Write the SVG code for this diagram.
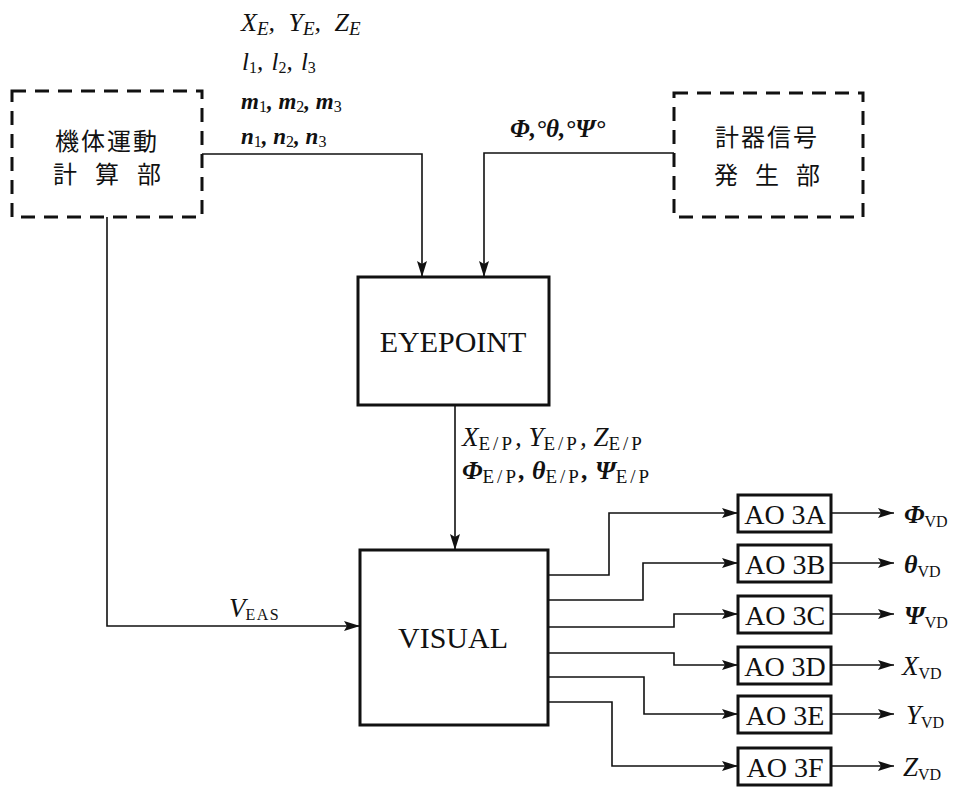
<svg xmlns="http://www.w3.org/2000/svg" width="958" height="788" viewBox="0 0 958 788">
<style>
.box{fill:none;stroke:#111;stroke-width:3}
.dash{fill:none;stroke:#111;stroke-width:3;stroke-dasharray:14 9}
.ln{fill:none;stroke:#111;stroke-width:1.6}
.t{font-family:"Liberation Serif",serif;fill:#111}
.it{font-style:italic}
.bi{font-style:italic;font-weight:bold}
.sub{font-size:16px;font-style:normal;font-weight:normal}
.ep{font-size:19px;font-style:normal;font-weight:normal;letter-spacing:3px}
.jp{font-family:"Noto Sans CJK JP","Noto Sans",sans-serif;fill:#111;font-size:24px}
.big{font-size:30px}
.ao{font-size:28px}
</style>
<defs>
<marker id="ar" markerUnits="userSpaceOnUse" markerWidth="16" markerHeight="10" refX="16" refY="5" orient="auto">
<path d="M0,0 L16,5 L0,10 L3,5 z" fill="#111"/>
</marker>
</defs>

<g id="calc">
<path class="dash" d="M12,91 H202 V217 H12 Z"/>
<text class="jp" x="107" y="150" text-anchor="middle" letter-spacing="2">機体運動</text>
<text class="jp" x="107" y="183" text-anchor="middle" textLength="108" lengthAdjust="spacing">計 算 部</text>
</g>

<g id="instr">
<path class="dash" d="M674,93 H863 V217 H674 Z"/>
<text class="jp" x="767" y="146" text-anchor="middle" letter-spacing="2">計器信号</text>
<text class="jp" x="767" y="184" text-anchor="middle" textLength="106" lengthAdjust="spacing">発 生 部</text>
</g>

<g id="eyepoint">
<rect class="box" x="358" y="277" width="191" height="128"/>
<text class="t big" x="453" y="352" text-anchor="middle">EYEPOINT</text>
</g>

<g id="visual">
<rect class="box" x="360" y="550" width="188" height="175"/>
<text class="t big" x="453" y="648" text-anchor="middle">VISUAL</text>
</g>

<g id="ao3a"><rect class="box" x="738" y="495" width="93" height="37"/><text class="t ao" x="785" y="524" text-anchor="middle">AO 3A</text></g>
<g id="ao3b"><rect class="box" x="738" y="545" width="93" height="37"/><text class="t ao" x="785" y="574" text-anchor="middle">AO 3B</text></g>
<g id="ao3c"><rect class="box" x="738" y="596" width="93" height="37"/><text class="t ao" x="785" y="625" text-anchor="middle">AO 3C</text></g>
<g id="ao3d"><rect class="box" x="738" y="647" width="93" height="37"/><text class="t ao" x="785" y="676" text-anchor="middle">AO 3D</text></g>
<g id="ao3e"><rect class="box" x="738" y="696" width="93" height="37"/><text class="t ao" x="785" y="725" text-anchor="middle">AO 3E</text></g>
<g id="ao3f"><rect class="box" x="738" y="748" width="93" height="37"/><text class="t ao" x="785" y="777" text-anchor="middle">AO 3F</text></g>

<g id="connectors">
<path class="ln" d="M202,154 H422 V277" marker-end="url(#ar)"/>
<path class="ln" d="M674,153 H484 V277" marker-end="url(#ar)"/>
<path class="ln" d="M455,405 V550" marker-end="url(#ar)"/>
<path class="ln" d="M107,217 V626 H360" marker-end="url(#ar)"/>
<path class="ln" d="M548,575 H609 V513 H738" marker-end="url(#ar)"/>
<path class="ln" d="M548,600 H643 V563 H738" marker-end="url(#ar)"/>
<path class="ln" d="M548,627 H674 V614 H738" marker-end="url(#ar)"/>
<path class="ln" d="M548,653 H674 V665 H738" marker-end="url(#ar)"/>
<path class="ln" d="M548,677 H644 V714 H738" marker-end="url(#ar)"/>
<path class="ln" d="M548,702 H612 V766 H738" marker-end="url(#ar)"/>
<path class="ln" d="M831,513 H894" marker-end="url(#ar)"/>
<path class="ln" d="M831,563 H894" marker-end="url(#ar)"/>
<path class="ln" d="M831,614 H894" marker-end="url(#ar)"/>
<path class="ln" d="M831,665 H894" marker-end="url(#ar)"/>
<path class="ln" d="M831,714 H894" marker-end="url(#ar)"/>
<path class="ln" d="M831,766 H894" marker-end="url(#ar)"/>
</g>

<g id="labels">
<text class="t it" x="241" y="31" font-size="26">X<tspan font-size="19" dy="4">E</tspan><tspan dy="-4">, </tspan><tspan dx="7">Y</tspan><tspan font-size="19" dy="4">E</tspan><tspan dy="-4">, </tspan><tspan dx="7">Z</tspan><tspan font-size="19" dy="4">E</tspan></text>
<text class="t it" x="242" y="70" font-size="25">l<tspan class="sub" font-size="17" dy="3">1</tspan><tspan dy="-3">, </tspan><tspan dx="2">l</tspan><tspan class="sub" font-size="17" dy="3">2</tspan><tspan dy="-3">, </tspan><tspan dx="2">l</tspan><tspan class="sub" font-size="17" dy="3">3</tspan></text>
<text class="t bi" x="241" y="109" font-size="23">m<tspan class="sub" dy="3">1</tspan><tspan dy="-3">, m</tspan><tspan class="sub" dy="3">2</tspan><tspan dy="-3">, m</tspan><tspan class="sub" dy="3">3</tspan></text>
<text class="t bi" x="241" y="144" font-size="23">n<tspan class="sub" dy="3">1</tspan><tspan dy="-3">, n</tspan><tspan class="sub" dy="3">2</tspan><tspan dy="-3">, n</tspan><tspan class="sub" dy="3">3</tspan></text>
<text class="t bi" x="510" y="137" font-size="25">Φ,°θ,°Ψ°</text>
<text class="t it" x="462" y="446" font-size="27">X<tspan class="ep" dy="4">E/P</tspan><tspan dy="-4">, Y</tspan><tspan class="ep" dy="4">E/P</tspan><tspan dy="-4">, Z</tspan><tspan class="ep" dy="4">E/P</tspan></text>
<text class="t bi" x="462" y="479" font-size="26">Φ<tspan class="ep" dy="4">E/P</tspan><tspan dy="-4">, θ</tspan><tspan class="ep" dy="4">E/P</tspan><tspan dy="-4">, Ψ</tspan><tspan class="ep" dy="4">E/P</tspan></text>
<text class="t it" x="229" y="617" font-size="27">V<tspan class="sub" font-size="19" dy="3" letter-spacing="1.5">EAS</tspan></text>
<text class="t bi" x="904" y="523" font-size="26">Φ<tspan class="sub" font-size="18" dy="4">VD</tspan></text>
<text class="t bi" x="904" y="573" font-size="26">θ<tspan class="sub" font-size="18" dy="4">VD</tspan></text>
<text class="t bi" x="904" y="624" font-size="26">Ψ<tspan class="sub" font-size="18" dy="4">VD</tspan></text>
<text class="t it" x="902" y="675" font-size="27">X<tspan class="sub" font-size="18" dy="4">VD</tspan></text>
<text class="t it" x="906" y="724" font-size="27">Y<tspan class="sub" font-size="18" dy="4">VD</tspan></text>
<text class="t it" x="903" y="776" font-size="27">Z<tspan class="sub" font-size="18" dy="4">VD</tspan></text>
</g>
</svg>
